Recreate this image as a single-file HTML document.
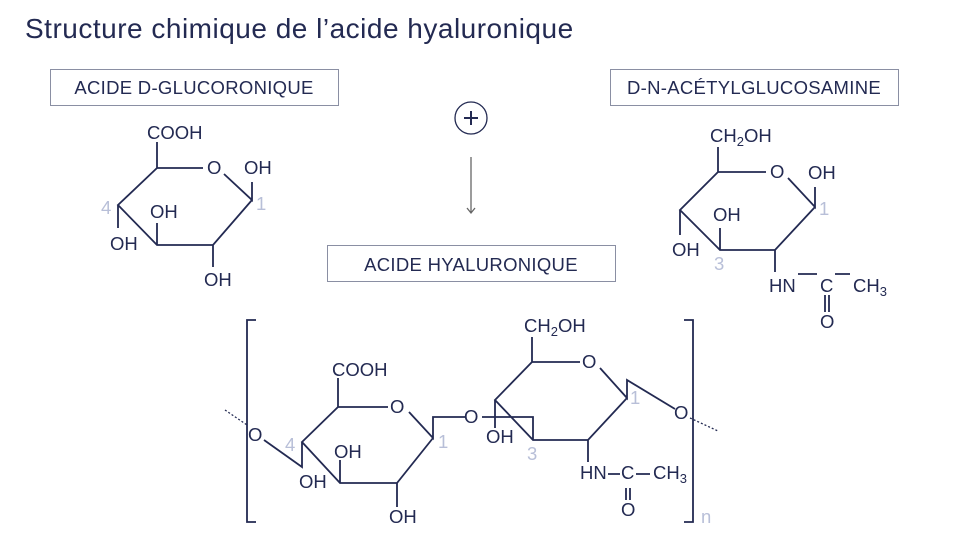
<!DOCTYPE html>
<html><head><meta charset="utf-8"><style>
body{margin:0;background:#fff;}
svg{display:block;}
text{font-family:"Liberation Sans",sans-serif;fill:#232a52;}
.g{fill:#b8bfd8;}
</style></head><body>
<svg width="960" height="540" viewBox="0 0 960 540" xmlns="http://www.w3.org/2000/svg">
<text x="25" y="38" font-size="28" letter-spacing="0.5">Structure chimique de l’acide hyaluronique</text>
<g fill="none" stroke="#8a8fa3" stroke-width="1">
<rect x="50.5" y="69.5" width="288" height="36"/>
<rect x="610.5" y="69.5" width="288" height="36"/>
<rect x="327.5" y="245.5" width="288" height="36"/>
</g>
<g font-size="18.5" text-anchor="middle" letter-spacing="0.3">
<text x="194" y="94">ACIDE D-GLUCORONIQUE</text>
<text x="754" y="94">D-N-ACÉTYLGLUCOSAMINE</text>
<text x="471" y="271">ACIDE HYALURONIQUE</text>
</g>
<circle cx="471" cy="118" r="16" fill="none" stroke="#232a52" stroke-width="1.3"/>
<path d="M464 118H478M471 111V125" stroke="#232a52" stroke-width="2"/>
<path d="M471 157V213M467 208L471 213L475 208" stroke="#666" stroke-width="1.3" fill="none"/>
<g stroke="#232a52" stroke-width="1.8" fill="none">
<path d="M157 142V168H203M224 174L252 200V182M252 200L213 245L157 245L118 205L157 168M118 205V228M157 245V223M213 245V267"/>
<path d="M718 147V172H766M788 178L815 207V187M815 207L775 250L720 250L680 210L718 172M680 210V235M720 250V228M775 250V272M798 274H817M835 274H850M825 295V312M829 295V312"/>
<path d="M338 378V407H388M409 412L433 438V417H465M433 438L397 483L340 483L302 442L338 407M340 483V460M397 483V507M302 442V467L264 440"/>
<path d="M532 337V362H580M600 368L627 398V380L675 409M627 398L588 440L533 440L495 400L532 362M495 400V428M495 400L533 440M482 417H533V440M588 440V462M608 474H620M636 474H650M626 488V500M630 488V500"/>
<path d="M256 320H247V522H256M684 320H693V522H684"/>
</g>
<path d="M225 410L247 425M690 418L718 431" stroke="#232a52" stroke-width="1.3" stroke-dasharray="2 2"/>
<g font-size="18.5">
<text x="147" y="139">COOH</text>
<text x="207" y="174">O</text>
<text x="244" y="174">OH</text>
<text x="150" y="218">OH</text>
<text x="110" y="250">OH</text>
<text x="204" y="286">OH</text>
<text x="710" y="142">CH<tspan font-size="13" dy="4">2</tspan><tspan dy="-4">OH</tspan></text>
<text x="770" y="178">O</text>
<text x="808" y="179">OH</text>
<text x="713" y="221">OH</text>
<text x="672" y="256">OH</text>
<text x="769" y="292">HN</text>
<text x="820" y="292">C</text>
<text x="853" y="292">CH<tspan font-size="13" dy="4">3</tspan></text>
<text x="820" y="328">O</text>
<text x="332" y="376">COOH</text>
<text x="390" y="413">O</text>
<text x="464" y="423">O</text>
<text x="334" y="458">OH</text>
<text x="299" y="488">OH</text>
<text x="389" y="523">OH</text>
<text x="248" y="441">O</text>
<text x="524" y="332">CH<tspan font-size="13" dy="4">2</tspan><tspan dy="-4">OH</tspan></text>
<text x="582" y="368">O</text>
<text x="486" y="443">OH</text>
<text x="674" y="419">O</text>
<text x="580" y="479">HN</text>
<text x="621" y="479">C</text>
<text x="653" y="479">CH<tspan font-size="13" dy="4">3</tspan></text>
<text x="621" y="516">O</text>
</g>
<g font-size="18.5">
<text class="g" x="101" y="214">4</text>
<text class="g" x="256" y="210">1</text>
<text class="g" x="714" y="270">3</text>
<text class="g" x="819" y="215">1</text>
<text class="g" x="285" y="451">4</text>
<text class="g" x="438" y="448">1</text>
<text class="g" x="527" y="460">3</text>
<text class="g" x="630" y="404">1</text>
<text class="g" x="701" y="523">n</text>
</g>
</svg>
</body></html>
